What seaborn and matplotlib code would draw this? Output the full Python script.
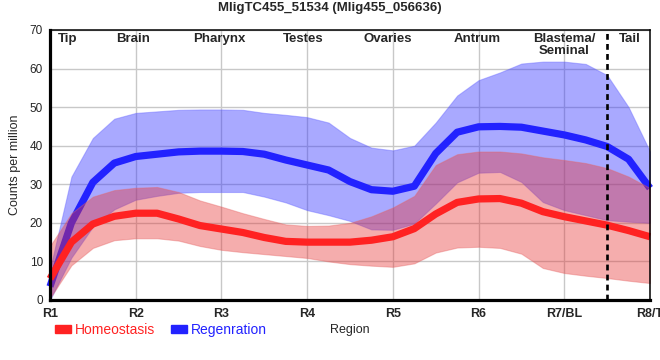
import numpy as np
import pandas as pd
import matplotlib
matplotlib.use("Agg")
import matplotlib.pyplot as plt
from matplotlib.patches import Patch
import seaborn as sns

# -- Data (quarter-region steps) -----------------------------------------------

positions = np.arange(1, 8.01, 0.25)
tick_labels = ["R1", "R2", "R3", "R4", "R5", "R6", "R7/BL", "R8/T"]
region_names = ["Tip", "Brain", "Pharynx", "Testes", "Ovaries", "Antrum",
                "Blastema/\nSeminal", "Tail"]
region_pos = [1.21, 1.97, 2.98, 3.95, 4.94, 5.98, 7.0, 7.77]

regen_mean = [3.5, 20, 30.5, 35.5, 37.2, 37.8, 38.4, 38.6, 38.6, 38.5, 37.8,
              36.3, 35, 33.7, 30.7, 28.6, 28.2, 29.5, 38, 43.5, 44.9, 45,
              44.8, 43.8, 42.8, 41.5, 39.8, 36.5, 29]
regen_hi = [8, 32, 42, 47, 48.5, 48.9, 49.3, 49.4, 49.4, 49.3, 48.5, 48,
            47.4, 46, 42, 39.5, 38.8, 40, 46, 53, 57, 59, 61.3, 61.8, 61.8,
            61.2, 58.3, 50, 38.5]
regen_lo = [0, 11, 19, 23.5, 26, 27, 27.8, 28, 28, 28, 26.8, 25.3, 23.3, 22,
            20.5, 18.3, 18.2, 19.8, 25, 30.5, 33, 33.2, 30.6, 25.4, 23.3, 22,
            20.7, 20.3, 20]

homeo_mean = [5.5, 15, 19.7, 21.7, 22.5, 22.5, 21, 19.3, 18.4, 17.5, 16.2,
              15.2, 15, 15, 15, 15.5, 16.4, 18.5, 22.3, 25.3, 26.2, 26.3,
              25.1, 22.9, 21.6, 20.5, 19.4, 18, 16.4]
homeo_hi = [14, 22.5, 26.8, 28.5, 29.1, 29.3, 28, 25.8, 24.2, 22.5, 21, 19.6,
            19.2, 19.3, 20, 21.7, 24, 27, 35, 37.8, 38.5, 38.5, 38, 37, 36.3,
            35.5, 34.2, 32, 29]
homeo_lo = [0.5, 9, 13.5, 15.5, 16, 16, 15.4, 14, 13, 12.4, 11.9, 11.4, 10.9,
            10, 9.3, 8.9, 8.6, 9.5, 12.3, 13.6, 13.8, 13.5, 12, 8.3, 7, 6.3,
            5.7, 5, 4.4]

RED = "#ff2222"
BLUE = "#2222ff"

# -- Plot ----------------------------------------------------------------------

sns.set_style("white")
plt.rcParams["font.family"] = ["Liberation Sans", "DejaVu Sans"]

df = pd.DataFrame({
    "pos": positions,
    "regen": regen_mean,
    "homeo": homeo_mean,
})

fig = plt.figure(figsize=(6.6, 3.6), dpi=100)
ax = fig.add_axes([50 / 660, 60 / 360, 600 / 660, 270 / 360])

ax.fill_between(positions, regen_lo, regen_hi, color="#3333ff", alpha=0.42,
                linewidth=0.8, edgecolor="#6666ff", zorder=1)
sns.lineplot(data=df, x="pos", y="regen", color=BLUE, linewidth=5.2, ax=ax,
             zorder=2, solid_capstyle="butt", solid_joinstyle="round",
             clip_on=False)
ax.fill_between(positions, homeo_lo, homeo_hi, color="#e63232", alpha=0.4,
                linewidth=0.8, edgecolor="#e66666", zorder=3)
sns.lineplot(data=df, x="pos", y="homeo", color=RED, linewidth=5.2, ax=ax,
             zorder=4, solid_capstyle="butt", solid_joinstyle="round",
             clip_on=False)

ax.axvline(7.5, color="black", linewidth=1.9, linestyle=(0, (2.2, 1.6)),
           zorder=5)

for name, x in zip(region_names, region_pos):
    ax.text(x, 69.3, name, ha="center", va="top", fontsize=9.5,
            fontweight="bold", linespacing=1.0, zorder=6)

ax.set_xlim(1, 8)
ax.set_ylim(0, 70)
ax.set_xticks(range(1, 9))
ax.set_xticklabels(tick_labels, fontweight="bold", fontsize=9)
ax.set_yticks(range(0, 71, 10))
ax.tick_params(axis="y", labelsize=8.5, length=3, width=1, pad=2)
ax.tick_params(axis="x", length=4, width=1, pad=2)
ax.grid(True, color="#c8c8c8", linewidth=1)
ax.set_axisbelow(True)

for side in ["left", "bottom"]:
    ax.spines[side].set_linewidth(2.3)
for side in ["top", "right"]:
    ax.spines[side].set_linewidth(1.1)
for s in ax.spines.values():
    s.set_color("black")
    s.set_zorder(7)

ax.set_xlabel("Region", fontsize=9, labelpad=3)
ax.set_ylabel("Counts per million", fontsize=9, labelpad=6)

fig.text(0.5, 0.978, "MligTC455_51534 (Mlig455_056636)", ha="center",
         va="center", fontsize=9.5, fontweight="bold")

handles = [Patch(color=RED, label="Homeostasis"),
           Patch(color=BLUE, label="Regenration")]
leg = fig.legend(handles=handles, loc="center left", ncol=2, frameon=False,
                 bbox_to_anchor=(55 / 660, 30 / 360), fontsize=10,
                 borderpad=0, borderaxespad=0,
                 handlelength=1.15, handleheight=0.55, handletextpad=0.25,
                 columnspacing=1.2)
for text, c in zip(leg.get_texts(), [RED, BLUE]):
    text.set_color(c)

fig.savefig("out.png", dpi=100)
